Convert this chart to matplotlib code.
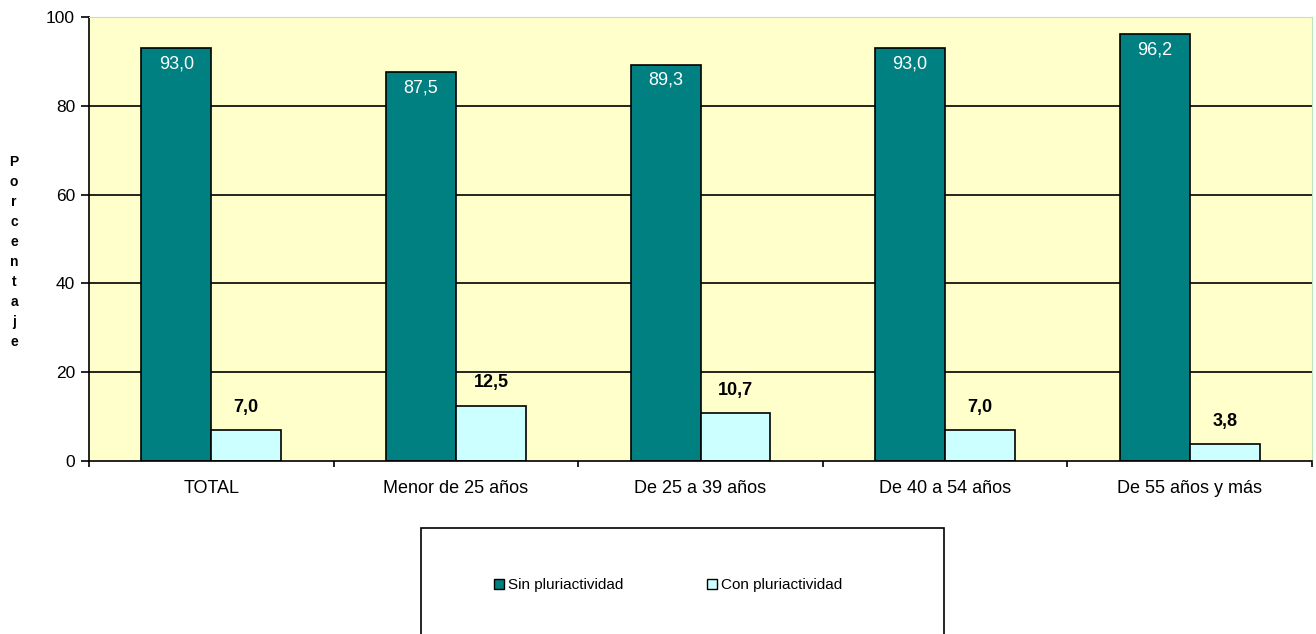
import matplotlib
matplotlib.use("Agg")
import matplotlib.pyplot as plt
import numpy as np
from matplotlib.patches import Rectangle, Patch

plt.rcParams['font.family'] = ['Liberation Sans', 'DejaVu Sans']

categories = ["TOTAL", "Menor de 25 años", "De 25 a 39 años", "De 40 a 54 años", "De 55 años y más"]
sin_plur = [93.0, 87.5, 89.3, 93.0, 96.2]
con_plur = [7.0, 12.5, 10.7, 7.0, 3.8]
series_names = ["Sin pluriactividad", "Con pluriactividad"]
yticks = [0, 20, 40, 60, 80, 100]

def fmt(v):
    return f"{v:.1f}".replace(".", ",")

fig = plt.figure(figsize=(13.16, 6.34), dpi=100)
ax = fig.add_axes([89/1316, 1-461/634, 1223/1316, 444/634])
ax.set_facecolor("#FFFFCC")

x = np.arange(len(categories))
w = 0.286
ax.bar(x - w/2, sin_plur, w, color="#008080", edgecolor="black", linewidth=1.2, zorder=3)
ax.bar(x + w/2, con_plur, w, color="#CCFFFF", edgecolor="black", linewidth=1.2, zorder=3)

for xi, v in zip(x, sin_plur):
    ax.annotate(fmt(v), (xi - w/2, v), xytext=(0, -11.5), textcoords="offset points",
                ha="center", va="center", color="white", fontsize=13, zorder=4)
for xi, v in zip(x, con_plur):
    ax.annotate(fmt(v), (xi + w/2, v), xytext=(0, 16.5), textcoords="offset points",
                ha="center", va="center", color="black", fontsize=13, fontweight="bold", zorder=4)

ax.set_xlim(-0.5, len(categories) - 0.5)
ax.set_ylim(0, 100)
ax.set_yticks(yticks)
ax.set_yticklabels([str(t) for t in yticks], fontsize=12.5)
for t in yticks[1:-1]:
    ax.axhline(t, color="black", linewidth=1.2, zorder=1)

ax.set_xticks(x)
ax.set_xticklabels(categories, fontsize=13)
ax.tick_params(axis="x", which="major", length=0, pad=14)
ax.set_xticks(np.arange(-0.5, len(categories)), minor=True)
ax.tick_params(axis="x", which="minor", length=4, width=1.2, direction="out")
ax.tick_params(axis="y", length=6, width=1.2, direction="out", pad=4)

ax.spines["left"].set_color("black")
ax.spines["left"].set_linewidth(1.2)
ax.spines["bottom"].set_color("black")
ax.spines["bottom"].set_linewidth(1.2)
ax.spines["top"].set_color("#b8e8b8")
ax.spines["right"].set_color("#b8e8b8")
ax.spines["bottom"].set_zorder(5)

# vertical stacked y label
fig.text(14/1316, 1 - 252/634, "\n".join("Porcentaje"), ha="center", va="center",
         fontsize=10, fontweight="bold", linespacing=1.55)

# legend box
fig.patches.append(Rectangle((421/1316, -0.05), (944-421)/1316, 0.05 + (634-528)/634,
                             transform=fig.transFigure, facecolor="white",
                             edgecolor="black", linewidth=1.2))
handles = [Patch(facecolor="#008080", edgecolor="black"), Patch(facecolor="#CCFFFF", edgecolor="black")]
fig.legend(handles, series_names, loc="center", bbox_to_anchor=(668/1316, 1 - 585/634),
           ncol=2, frameon=False, fontsize=11, handlelength=0.65, handleheight=0.65,
           handletextpad=0.25, columnspacing=5.5)

fig.savefig("out.png", dpi=100)
